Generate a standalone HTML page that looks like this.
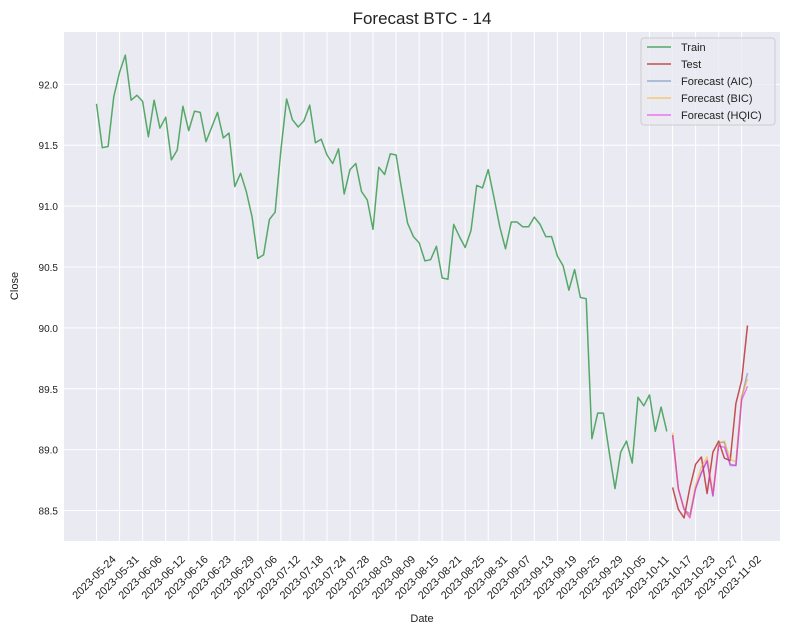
<!DOCTYPE html>
<html><head><meta charset="utf-8"><style>
body{margin:0;background:#fff;font-family:"Liberation Sans","DejaVu Sans",sans-serif;}
svg text{font-family:"Liberation Sans","DejaVu Sans",sans-serif;}
</style></head><body>
<svg id="chart" width="791" height="635" xmlns="http://www.w3.org/2000/svg">
<rect width="791" height="635" fill="#fff"/>
<text x="422" y="24" font-size="17" text-anchor="middle" fill="#222">Forecast BTC - 14</text>
<rect x="64" y="32" width="716" height="509" fill="#eaeaf2"/>
<g id="grid"></g><g id="series"></g><g id="ticks"></g>
<text x="422" y="622" font-size="11" text-anchor="middle" fill="#222">Date</text>
<text transform="translate(18,286) rotate(-90)" font-size="11" text-anchor="middle" fill="#222">Close</text>
<g>
<rect x="641" y="38" width="134" height="87" rx="3" fill="#eaeaf2" fill-opacity="0.8" stroke="#ccc"/>
<line x1="647" y1="47" x2="671" y2="47" stroke="#55a868" stroke-width="1.5"/><text x="681" y="51" font-size="11" fill="#222">Train</text>
<line x1="647" y1="64" x2="671" y2="64" stroke="#c44e52" stroke-width="1.5"/><text x="681" y="68" font-size="11" fill="#222">Test</text>
<line x1="647" y1="81" x2="671" y2="81" stroke="#4c72b0" stroke-opacity="0.5" stroke-width="1.5"/><text x="681" y="85" font-size="11" fill="#222">Forecast (AIC)</text>
<line x1="647" y1="98" x2="671" y2="98" stroke="#ffa500" stroke-opacity="0.5" stroke-width="1.5"/><text x="681" y="102" font-size="11" fill="#222">Forecast (BIC)</text>
<line x1="647" y1="115" x2="671" y2="115" stroke="#ee00ee" stroke-opacity="0.5" stroke-width="1.5"/><text x="681" y="119" font-size="11" fill="#222">Forecast (HQIC)</text>
</g>
</svg>
<script>
const trainValues=[91.84,91.48,91.49,91.90,92.10,92.24,91.87,91.91,91.86,91.57,91.87,91.64,91.73,91.38,91.46,91.82,91.62,91.78,91.77,91.53,91.65,91.77,91.56,91.60,91.16,91.27,91.12,90.91,90.57,90.60,90.89,90.95,91.46,91.88,91.71,91.65,91.70,91.83,91.52,91.55,91.42,91.35,91.47,91.10,91.30,91.35,91.12,91.05,90.81,91.32,91.26,91.43,91.42,91.13,90.86,90.75,90.70,90.55,90.56,90.67,90.41,90.40,90.85,90.75,90.66,90.80,91.17,91.15,91.30,91.07,90.83,90.65,90.87,90.87,90.83,90.83,90.91,90.85,90.75,90.75,90.59,90.51,90.31,90.48,90.25,90.24,89.09,89.30,89.30,88.98,88.68,88.98,89.07,88.89,89.43,89.36,89.45,89.15,89.35,89.15];
const testValues=[88.69,88.51,88.44,88.69,88.88,88.94,88.64,88.98,89.07,88.93,88.91,89.38,89.57,90.02];
const aicValues=[89.12,88.68,88.51,88.47,88.68,88.81,88.91,88.62,89.06,89.06,88.87,88.87,89.43,89.63];
const bicValues=[89.14,88.68,88.51,88.45,88.71,88.86,88.94,88.64,89.05,89.07,88.92,88.90,89.44,89.58];
const hqicValues=[89.12,88.68,88.51,88.44,88.68,88.81,88.91,88.62,89.03,89.02,88.88,88.87,89.41,89.52];
const dateLabels=["2023-05-24","2023-05-31","2023-06-06","2023-06-12","2023-06-16","2023-06-23","2023-06-29","2023-07-06","2023-07-12","2023-07-18","2023-07-24","2023-07-28","2023-08-03","2023-08-09","2023-08-15","2023-08-21","2023-08-25","2023-08-31","2023-09-07","2023-09-13","2023-09-19","2023-09-25","2023-09-29","2023-10-05","2023-10-11","2023-10-17","2023-10-23","2023-10-27","2023-11-02"];
const yTicks=[88.5,89.0,89.5,90.0,90.5,91.0,91.5,92.0];
const NS="http://www.w3.org/2000/svg";
const total=trainValues.length+testValues.length;
const X0=64,X1=780,Y0=32,Y1=541;
const xmin=-(total-1)*0.05,xmax=(total-1)*1.05;
const ymin=88.25,ymax=92.43;
function xs(i){return X0+(i-xmin)/(xmax-xmin)*(X1-X0);}
function ys(v){return Y1-(v-ymin)/(ymax-ymin)*(Y1-Y0);}
function mk(tag,attrs,parent){const e=document.createElementNS(NS,tag);for(const k in attrs)e.setAttribute(k,attrs[k]);parent.appendChild(e);return e;}
const grid=document.getElementById('grid'),ticks=document.getElementById('ticks'),ser=document.getElementById('series');
yTicks.forEach(v=>{
 const l=mk('line',{x1:X0,x2:X1,y1:ys(v),y2:ys(v),stroke:'#fff','stroke-width':1},grid);
 
 
 const t=mk('text',{x:58,y:ys(v)+4,'font-size':10,'text-anchor':'end',fill:'#222'},ticks);
 t.textContent=v.toFixed(1);
 
 
});
dateLabels.forEach((d,k)=>{
 const x=xs(k*4);
 const l=mk('line',{x1:x,x2:x,y1:Y0,y2:Y1,stroke:'#fff','stroke-width':1},grid);
 
 
 const t=mk('text',{transform:`translate(${x+20},${Y1+19}) rotate(-45)`,'font-size':11,'text-anchor':'end',fill:'#222'},ticks);
 t.textContent=d;
 
 
});
function line(vals,start,color,op,name){
 const pts=vals.map((v,i)=>xs(start+i).toFixed(1)+','+ys(v).toFixed(1)).join(' ');
 const p=mk('polyline',{points:pts,fill:'none',stroke:color,'stroke-opacity':op,'stroke-width':1.5,'stroke-linejoin':'round'},ser);
 
 
}
const ts=trainValues.length;
line(trainValues,0,'#55a868',1,'train-line');
line(testValues,ts,'#c44e52',1,'test-line');
line(aicValues,ts,'#4c72b0',0.5,'forecast-aic-line');
line(bicValues,ts,'#ffa500',0.5,'forecast-bic-line');
line(hqicValues,ts,'#ee00ee',0.5,'forecast-hqic-line');
</script>
</body></html>
